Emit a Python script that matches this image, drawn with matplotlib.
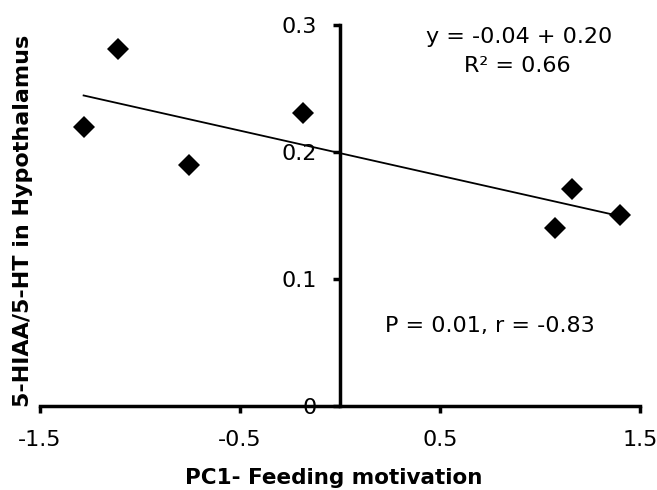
import matplotlib
matplotlib.use('Agg')
import matplotlib.pyplot as plt
import numpy as np

# values
pc1 = [-1.282, -1.112, -0.757, -0.185, 1.075, 1.162, 1.40]
hiaa_ratio = [0.220, 0.281, 0.190, 0.231, 0.140, 0.171, 0.150]

x_ticks = [-1.5, -0.5, 0.5, 1.5]
x_ticklabels = ['-1.5', '-0.5', '0.5', '1.5']
y_ticks = [0, 0.1, 0.2, 0.3]
y_ticklabels = ['0', '0.1', '0.2', '0.3']

eq_text = 'y = -0.04 + 0.20'
r2_text = 'R\u00b2 = 0.66'
stats_text = 'P = 0.01, r = -0.83'

plt.rcParams['font.family'] = ['DejaVu Sans']

fig = plt.figure(figsize=(6.57, 4.9), dpi=100)
ax = fig.add_axes([40/657, 84/490, 600/657, 381/490])

# linear trend
slope, intercept = np.polyfit(pc1, hiaa_ratio, 1)
xl = np.array([min(pc1), max(pc1)])
ax.plot(xl, slope * xl + intercept, color='black', lw=1.3, zorder=2)

ax.plot(pc1, hiaa_ratio, 'D', color='black', ms=11.5, mew=0, zorder=3)

ax.set_xlim(-1.5, 1.5)
ax.set_ylim(0, 0.3)

ax.spines['top'].set_visible(False)
ax.spines['right'].set_visible(False)
ax.spines['left'].set_position(('data', 0))
ax.spines['bottom'].set_position(('data', 0))
ax.spines['left'].set_linewidth(2.5)
ax.spines['bottom'].set_linewidth(2.5)

ax.set_xticks(x_ticks)
ax.set_xticklabels(x_ticklabels)
ax.set_yticks(y_ticks)
ax.set_yticklabels(y_ticklabels)
ax.tick_params(axis='both', direction='out', length=5, width=2.5,
               labelsize=16, pad=12)

ax.set_xlabel('PC1- Feeding motivation', fontsize=15.5, fontweight='bold')
ax.xaxis.set_label_coords(0.49, -0.163)
ax.set_ylabel('5-HIAA/5-HT in Hypothalamus', fontsize=16, fontweight='bold')
ax.yaxis.set_label_coords(-0.011, 0.485)

ax.text(0.895, 0.2856, eq_text, fontsize=16, ha='center', va='baseline')
ax.text(0.8875, 0.2628, r2_text, fontsize=16, ha='center', va='baseline')
ax.text(0.225, 0.058, stats_text, fontsize=16, ha='left', va='baseline')

fig.savefig('out.png', dpi=100)
